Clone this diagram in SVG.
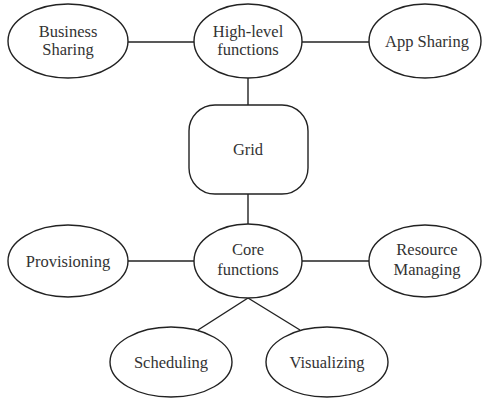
<svg xmlns="http://www.w3.org/2000/svg" width="482" height="399" viewBox="0 0 482 399">
  <style>
    .shape { fill: #ffffff; stroke: #222222; stroke-width: 1.4; }
    .edge { stroke: #222222; stroke-width: 1.4; fill: none; }
    .label { font-family: "Liberation Serif", "Times New Roman", serif; font-size: 16.5px; fill: #333333; text-anchor: middle; }
  </style>
  <rect x="0" y="0" width="482" height="399" fill="#ffffff"/>

  <!-- connectors -->
  <g id="connectors">
    <line class="edge" x1="128" y1="42" x2="195" y2="42"/>
    <line class="edge" x1="302" y1="42" x2="369" y2="42"/>
    <line class="edge" x1="248" y1="78" x2="248" y2="105"/>
    <line class="edge" x1="248" y1="194" x2="248" y2="224"/>
    <line class="edge" x1="128" y1="261" x2="195" y2="261"/>
    <line class="edge" x1="302" y1="261" x2="369" y2="261"/>
    <line class="edge" x1="248" y1="298" x2="198" y2="330"/>
    <line class="edge" x1="248" y1="298" x2="300" y2="330"/>
  </g>

  <g id="business-sharing">
    <ellipse class="shape" cx="68" cy="41" rx="60" ry="37"/>
    <text class="label" x="68" y="37">Business</text>
    <text class="label" x="68" y="55">Sharing</text>
  </g>

  <g id="high-level-functions">
    <ellipse class="shape" cx="248" cy="41" rx="54" ry="37"/>
    <text class="label" x="248" y="37">High-level</text>
    <text class="label" x="248" y="55">functions</text>
  </g>

  <g id="app-sharing">
    <ellipse class="shape" cx="425" cy="41" rx="56" ry="37"/>
    <text class="label" x="427" y="47">App Sharing</text>
  </g>

  <g id="grid">
    <rect class="shape" x="189" y="105" width="119" height="89" rx="26" ry="26"/>
    <text class="label" x="248" y="155">Grid</text>
  </g>

  <g id="provisioning">
    <ellipse class="shape" cx="68" cy="261" rx="60" ry="36"/>
    <text class="label" x="68" y="267">Provisioning</text>
  </g>

  <g id="core-functions">
    <ellipse class="shape" cx="248" cy="261" rx="54" ry="37"/>
    <text class="label" x="248" y="255">Core</text>
    <text class="label" x="248" y="275">functions</text>
  </g>

  <g id="resource-managing">
    <ellipse class="shape" cx="425" cy="261" rx="56" ry="36"/>
    <text class="label" x="427" y="255">Resource</text>
    <text class="label" x="427" y="275">Managing</text>
  </g>

  <g id="scheduling">
    <ellipse class="shape" cx="171" cy="362" rx="61" ry="35"/>
    <text class="label" x="171" y="368">Scheduling</text>
  </g>

  <g id="visualizing">
    <ellipse class="shape" cx="327" cy="362" rx="61" ry="35"/>
    <text class="label" x="327" y="368">Visualizing</text>
  </g>
</svg>
